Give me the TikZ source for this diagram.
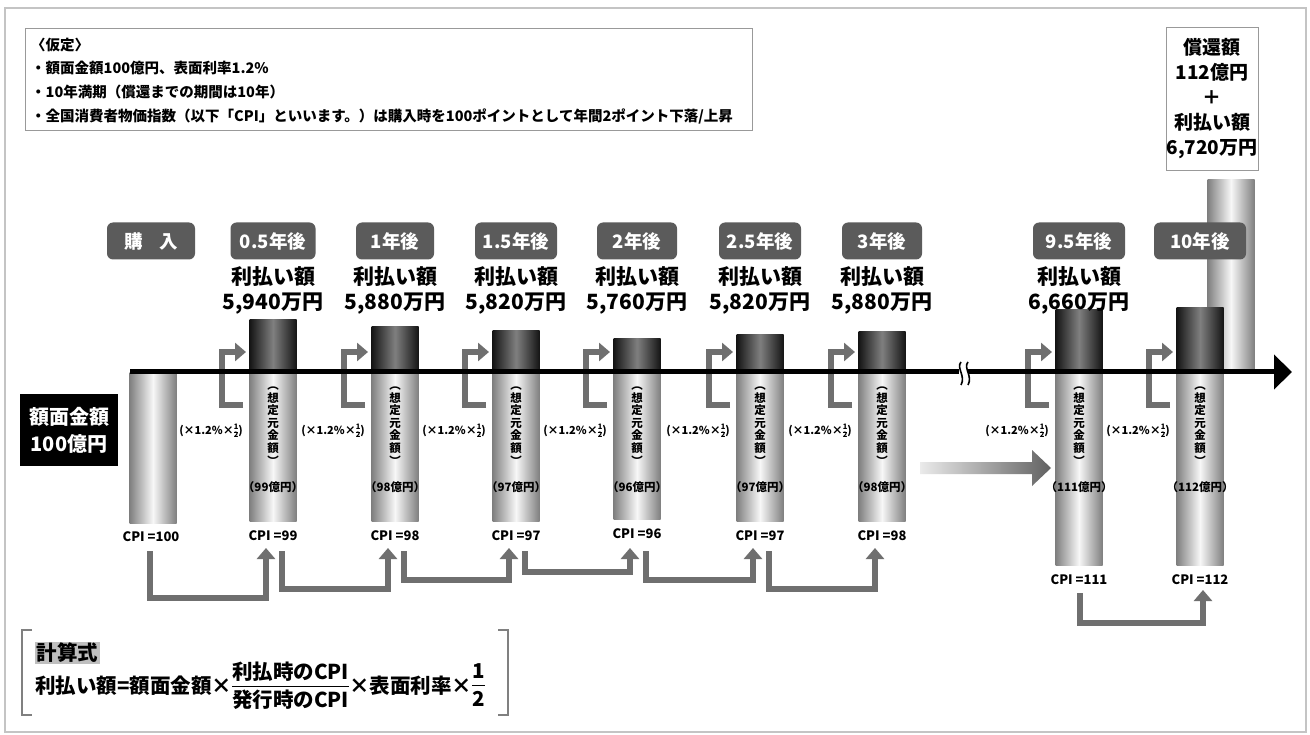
\documentclass[tikz,border=0pt]{standalone}
\usepackage{fontspec}
\setmainfont{Noto Sans CJK JP}
\usetikzlibrary{arrows.meta}
\newcommand\myfs[2]{\fontsize{#1pt}{#2pt}\selectfont}
\newcommand\myfrac[2]{\ensuremath{\vcenter{\hbox{\setlength\arrayrulewidth{0.8pt}\def\arraystretch{1.05}\begin{tabular}{@{}c@{}}\rule[-5pt]{0pt}{18pt}#1\\\hline\rule{0pt}{21pt}#2\end{tabular}}}}}
\newcommand\smfrac[2]{\ensuremath{\vcenter{\hbox{\fontsize{7.5pt}{7.5pt}\selectfont\setlength\arrayrulewidth{0.5pt}\setlength\tabcolsep{0pt}\def\arraystretch{0.9}\begin{tabular}{@{}c@{}}#1\\\hline#2\end{tabular}}}}}
\definecolor{tagc}{HTML}{5B5B5B}
\definecolor{arrc}{HTML}{6F6F6F}
\definecolor{framec}{HTML}{C4C4C4}
\begin{document}
\begin{tikzpicture}[x=1pt,y=-1pt,
  tagbox/.style={fill=tagc, rounded corners=6pt, text=white, font=\myfs{18.5}{20}\bfseries, minimum height=37pt, minimum width=82pt, inner sep=0pt},
  body/.style={minimum width=47pt, inner sep=0pt, left color=black!50, right color=black!50, middle color=black!3},
  bar/.style={minimum width=47pt, inner sep=0pt, left color=black!92, right color=black!92, middle color=black!50},
  amt/.style={align=center, font=\myfs{21}{25}\bfseries, inner sep=0pt},
  vtxt/.style={align=center, font=\myfs{11.5}{12.6}\bfseries, inner sep=0pt},
  prin/.style={font=\myfs{11.5}{12}\bfseries, inner sep=0pt},
  cpil/.style={font=\myfs{13}{13}\bfseries, inner sep=0pt},
  mult/.style={font=\myfs{11}{11}\bfseries, inner sep=0pt},
  larr/.style={draw=arrc, line width=6pt, -{Triangle[length=11pt,width=18pt]}},
  conn/.style={draw=arrc, line width=6.5pt, -{Triangle[length=11pt,width=18pt]}},
  asm/.style={anchor=west, font=\myfs{14.5}{14.5}\bfseries, inner sep=0pt},
]
\useasboundingbox (0,0) rectangle (1310,735);
\fill[white] (0,0) rectangle (1310,735);
\draw[framec, line width=2pt] (5,8) rectangle (1306,732);

% assumptions
\node[draw=black!40, line width=0.8pt, minimum width=727pt, minimum height=102pt, inner sep=0pt, anchor=north west] (asmbox) at (25,28) {};
\node[asm] (a1) at (31,45) {〈仮定〉};
\node[asm] (a2) at (31,68) {・額面金額100億円、表面利率1.2\%};
\node[asm] (a3) at (31,92) {・10年満期（償還までの期間は10年）};
\node[asm] (a4) at (31,116) {・全国消費者物価指数（以下「CPI」といいます。）は購入時を100ポイントとして年間2ポイント下落/上昇};

% redemption
\node[body, minimum height=192pt, anchor=south] (tall) at (1231,372) {};
\node[draw=black!40, line width=0.8pt, fill=white, minimum width=92pt, minimum height=143pt, inner sep=0pt, align=center, font=\myfs{19}{25}\bfseries] (redeem) at (1212,98.5) {償還額\\112億円\\＋\\利払い額\\6,720万円};

% purchase column
\node[body, minimum height=151pt, anchor=north] (bodyP) at (153,372) {};

% columns
\foreach \nm/\cx/\tp/\bt/\lab/\prn/\cp/\tw in {
 A/273/320/521/{0.5年後}/{99億円}/{99}/85,
 B/395/327/521/{1年後}/{98億円}/{98}/78,
 C/516/331/521/{1.5年後}/{97億円}/{97}/82,
 D/637/339/519/{2年後}/{96億円}/{96}/80,
 E/760/335/521/{2.5年後}/{97億円}/{97}/82,
 F/882/332/521/{3年後}/{98億円}/{98}/80,
 G/1079/310/565/{9.5年後}/{111億円}/{111}/92,
 H/1200/308/565/{10年後}/{112億円}/{112}/92}{
  \node[body, minimum height={\bt-372}, anchor=north] (body\nm) at (\cx,372) {};
  \node[bar, minimum height={372-\tp}, anchor=south] (bar\nm) at (\cx,372) {};
  \node[vtxt] (vt\nm) at (\cx,426) {︵\\想\\定\\元\\金\\額\\︶};
  \node[prin] (pr\nm) at (\cx,487) {（\prn）};
  \node[cpil] (cpi\nm) at (\cx,\bt+15) {CPI =\cp};
  \node[tagbox, minimum width=\tw pt] (tag\nm) at (\cx,241) {\lab};
  \node[mult] (mu\nm) at (\cx-62,432) {(×1.2\%×\smfrac{1}{2})};
  \coordinate (la\nm) at (\cx-30,405);
  \coordinate (lb\nm) at (\cx-27,352);
  \draw[larr] (la\nm) -- ++(-21,0) |- (lb\nm);
}

% timeline
\coordinate (t0) at (130,372);
\coordinate (t1) at (1292,372);
\draw[line width=5pt, -{Triangle[length=18pt,width=34pt]}] (t0) -- (t1);
\fill[white] (959,364) rectangle (968,381);
\draw[line width=1.6pt] (961,362) .. controls (956,368) and (966,376) .. (961,385);
\draw[line width=1.6pt] (968,362) .. controls (963,368) and (973,376) .. (968,385);

% purchase labels
\node[tagbox, minimum width=88pt] (tagP) at (151,241) {購\hspace{0.9em}入};
\node[cpil] (cpiP) at (151,537) {CPI =100};

% amounts
\foreach \nm/\cx/\amt in {A/273/{5,940万円}, B/395/{5,880万円}, C/516/{5,820万円}, D/637/{5,760万円}, E/760/{5,820万円}, F/882/{5,880万円}, G/1079/{6,660万円}}{
  \node[amt] (amt\nm) at (\cx,290) {利払い額\\\amt};
}

% face value box
\node[fill=black, text=white, minimum width=98pt, minimum height=72pt, inner sep=0pt, align=center, font=\myfs{20}{27}\bfseries] (face) at (69,430) {額面金額\\100億円};

% big gradient arrow
\shade[left color=black!8, right color=black!62] (920,462) -- (1032,462) -- (1032,450) -- (1051,468) -- (1032,486) -- (1032,474) -- (920,474) -- cycle;

% bottom connectors
\coordinate (sP) at (150,551);
\foreach \nm/\cx in {A/273,B/395,C/516,D/637,E/760,F/882}{
  \coordinate (s\nm) at (\cx+9,551);
  \coordinate (e\nm) at (\cx-7,548);
}
\coordinate (sG) at (1080,593);
\coordinate (eH) at (1203,590);
\draw[conn] (sP) -- ++(0,47) -| (eA);
\draw[conn] (sA) -- ++(0,38) -| (eB);
\draw[conn] (sB) -- ++(0,29) -| (eC);
\draw[conn] (sC) -- ++(0,21) -| (eD);
\draw[conn] (sD) -- ++(0,29) -| (eE);
\draw[conn] (sE) -- ++(0,38) -| (eF);
\draw[conn] (sG) -- ++(0,30) -| (eH);

% formula
\draw[black!50, line width=1.2pt] (32,630) -- (22,630) -- (22,715) -- (32,715);
\draw[black!50, line width=1.2pt] (498,630) -- (508,630) -- (508,715) -- (498,715);
\node[fill=black!25, inner sep=1.5pt, anchor=west, font=\myfs{20.5}{20.5}\bfseries] (calc) at (35,653) {計算式};
\node[anchor=west, inner sep=0pt, font=\myfs{20.5}{20.5}\bfseries] (form) at (35,688) {利払い額=額面金額×\myfrac{利払時のCPI}{発行時のCPI}×表面利率×\myfrac{1}{2}};
\end{tikzpicture}
\end{document}
